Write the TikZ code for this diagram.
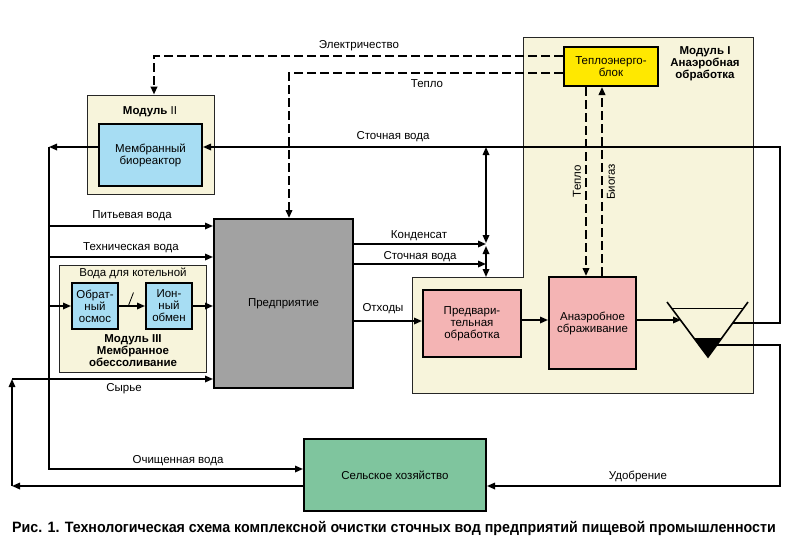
\documentclass[tikz,border=0pt]{standalone}
\usepackage{fontspec}
\setmainfont{Liberation Sans}
\newfontfamily\capfont[FakeStretch=0.95]{Liberation Sans}
\usetikzlibrary{arrows.meta}
\definecolor{modbg}{HTML}{F7F4DB}
\definecolor{bluebox}{HTML}{A7DDF3}
\definecolor{pinkbox}{HTML}{F4B4B4}
\definecolor{yelbox}{HTML}{FFE800}
\definecolor{graybox}{HTML}{A2A2A2}
\definecolor{greenbox}{HTML}{7FC59E}
\tikzset{
  tip/.tip={Triangle[length=8pt,width=6.5pt]},
  flow/.style={line width=1.6pt,-tip},
  pipe/.style={line width=1.6pt},
  dflow/.style={line width=2pt,dash pattern=on 9pt off 4pt,-tip},
  box/.style={draw,line width=2pt,inner sep=0pt,align=center,
    font=\fontsize{11.5}{12}\selectfont},
  modbox/.style={draw=black!85,line width=0.8pt,fill=modbg},
  lbl/.style={inner sep=0pt,font=\fontsize{11.5}{12}\selectfont,align=center},
  blbl/.style={inner sep=0pt,font=\fontsize{11.5}{12}\selectfont\bfseries,align=center}
}
\begin{document}
\begin{tikzpicture}[x=1pt,y=-1pt]
\useasboundingbox (0,0) rectangle (800,552);
% Module I background
\draw[modbox] (523,37) -- (753,37) -- (753,393) -- (412,393) -- (412,277) -- (523,277) -- cycle;
\node[blbl] (m1lbl) at (705,64) {Модуль I\\Анаэробная\\обработка};
% Module II
\node[modbox,minimum width=127pt,minimum height=99pt,inner sep=0pt] (m2) at (150.5,144.5) {};
\node[lbl] (m2lbl) at (150,112) {\textbf{Модуль} II};
% Module III
\node[modbox,minimum width=147pt,minimum height=107pt,inner sep=0pt] (m3) at (132.5,318.5) {};
\node[blbl] (m3lbl) at (133,351) {Модуль III\\Мембранное\\обессоливание};
\node[lbl] (bk) at (133,273) {Вода для котельной};
% boxes
\node[box,fill=yelbox,minimum width=94pt,minimum height=39pt] (tp) at (611,66.5) {Теплоэнерго-\\блок};
\node[box,fill=bluebox,minimum width=103pt,minimum height=62pt] (mb) at (150.5,155) {Мембранный\\биореактор};
\node[box,fill=graybox,minimum width=139pt,minimum height=169pt] (pr) at (283.5,303.5) {Предприятие};
\node[box,fill=bluebox,minimum width=46pt,minimum height=46pt] (ob) at (95,306) {Обрат-\\ный\\осмос};
\node[box,fill=bluebox,minimum width=46pt,minimum height=46pt] (io) at (169,306) {Ион-\\ный\\обмен};
\node[box,fill=pinkbox,minimum width=98pt,minimum height=67pt] (pv) at (472,323.5) {Предвари-\\тельная\\обработка};
\node[box,fill=pinkbox,minimum width=87pt,minimum height=92pt] (an) at (592.5,323) {Анаэробное\\сбраживание};
\node[box,fill=greenbox,minimum width=182pt,minimum height=72pt] (sx) at (395,475) {Сельское хозяйство};
% settling tank
\coordinate (tl) at (667,302);
\coordinate (tr) at (748,302);
\coordinate (ta) at (708,357);
\coordinate (tin) at (681,320);
\coordinate (tov) at (733,323);
\coordinate (tsl) at (717,345);
\fill (694,338) -- (722,338) -- (ta) -- cycle;
\draw[line width=1.6pt] (tl) -- (ta) -- (tr);
\draw[line width=0.8pt] (671.5,308) -- (743.5,308);
% dashed energy lines
\draw[dflow] (tp.west |- 0,56) -| ([xshift=3.5pt]m2.north);
\draw[dflow] (tp.west |- 0,73) -| ([xshift=5.5pt]pr.north);
\draw[dflow] (tp.south -| 586,0) -- (an.north -| 586,0);
\draw[dflow] (an.north -| 602,0) -- (tp.south -| 602,0);
\node[lbl] at (359,46) {Электричество};
\node[lbl] at (427,84) {Тепло};
\node[lbl,rotate=90] at (577,181) {Тепло};
\node[lbl,rotate=90] at (611,182) {Биогаз};
% waste water main
\draw[flow] (tov) -- (780,323) -- (780,147) -- (mb.east |- 0,147);
\node[lbl] at (393,137) {Сточная вода};
% bioreactor output
\draw[flow] (mb.west |- 0,147) -- (49,147);
\draw[flow] (49,147) -- (49,469) -- (sx.west |- 0,469);
\node[lbl] at (178,461) {Очищенная вода};
\draw[flow] (49,226) -- (pr.west |- 0,226);
\node[lbl] at (132,216) {Питьевая вода};
\draw[flow] (49,257) -- (pr.west |- 0,257);
\node[lbl] at (131,248) {Техническая вода};
\draw[flow] (49,306) -- (ob.west);
\draw[flow] (ob.east) -- (io.west);
\draw[flow] (io.east) -- (pr.west |- io.east);
\draw[line width=0.8pt] (128.3,306) -- (133.5,292.5);
% raw material and return
\draw[flow] (sx.west |- 0,486) -- (12,486);
\draw[flow] (12,486) -- (12,379);
\draw[flow] (12,379) -- (pr.west |- 0,379);
\node[lbl] at (124,389) {Сырье};
% fertilizer
\draw[flow] (tsl) -- (780,345) -- (780,486) -- (sx.east |- 0,486);
\node[lbl] at (638,476) {Удобрение};
% condensate, waste water to junction
\draw[flow] (pr.east |- 0,244) -- (486,244);
\node[lbl] at (419,236) {Конденсат};
\draw[flow] (pr.east |- 0,264) -- (486,264);
\node[lbl] at (420,257) {Сточная вода};
\draw[line width=1.6pt,tip-tip] (486,147) -- (486,243);
\draw[line width=1.6pt,tip-tip] (486,246) -- (486,277);
% waste stream
\draw[flow] (pr.east |- 0,321) -- (pv.west |- 0,321);
\node[lbl] at (383,309) {Отходы};
\draw[flow] (pv.east |- 0,320) -- (an.west |- 0,320);
\draw[flow] (an.east |- 0,320) -- (tin);
% caption
\node[inner sep=0pt,font=\capfont\fontsize{15}{16}\selectfont\bfseries] (cap) at (394,528) {Рис. 1. Технологическая схема комплексной очистки сточных вод предприятий пищевой промышленности};
\end{tikzpicture}
\end{document}
